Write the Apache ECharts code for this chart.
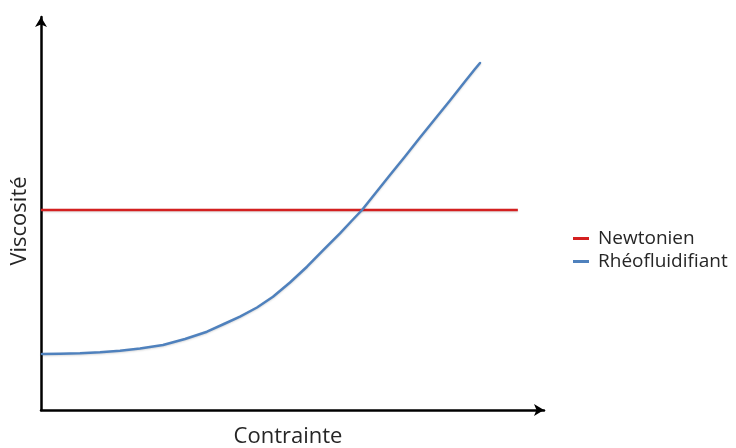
<!DOCTYPE html>
<html><head><meta charset="utf-8">
<script src="https://cdn.jsdelivr.net/npm/echarts@6/dist/echarts.min.js"></script>
<style>html,body{margin:0;padding:0;background:#fff}#c{width:736px;height:448px}</style>
</head><body><div id="c"></div>
<script>
const seriesNames = ['Newtonien', 'Rhéofluidifiant'];
const newtonienX = [0, 94.8];
const newtonienY = [50.9, 50.9];
const rheoX = [0.2, 3.78, 7.75, 11.73, 15.71, 19.68, 24.25, 28.63, 33.0, 36.58, 39.56, 42.94, 46.12, 49.5, 52.88, 56.06, 59.44, 61.83, 63.82, 66.6, 69.38, 72.37, 75.35, 78.33, 81.31, 84.29, 86.28, 87.28];
const rheoY = [14.25, 14.3, 14.43, 14.68, 15.06, 15.65, 16.54, 18.07, 19.92, 22.01, 23.74, 26.08, 28.83, 32.44, 36.46, 40.59, 44.96, 48.22, 50.89, 55.34, 59.8, 64.5, 69.34, 74.05, 78.75, 83.59, 86.77, 88.3];
const xTitle = 'Contrainte';
const yTitle = 'Viscosité';

const chart = echarts.init(document.getElementById('c'));
const font = 'Open Sans';
chart.setOption({
  animation: false,
  backgroundColor: '#fff',
  grid: { left: 41, right: 192, top: 17, bottom: 38 },
  xAxis: {
    type: 'value', min: 0, max: 100,
    axisLine: { show: true, lineStyle: { color: '#000', width: 2.5 }, symbol: ['none', 'arrow'], symbolSize: [9, 10] },
    axisTick: { show: false }, axisLabel: { show: false }, splitLine: { show: false }
  },
  yAxis: {
    type: 'value', min: 0, max: 100,
    axisLine: { show: true, lineStyle: { color: '#000', width: 2.5 }, symbol: ['none', 'arrow'], symbolSize: [9, 10] },
    axisTick: { show: false }, axisLabel: { show: false }, splitLine: { show: false }
  },
  legend: {
    orient: 'vertical', left: 568, top: 224, itemGap: 4,
    itemWidth: 16, itemHeight: 3,
    icon: 'rect',
    textStyle: { fontFamily: font, fontSize: 19, color: '#262626', padding: [0, 0, 0, 4] },
    data: seriesNames
  },
  graphic: [
    { type: 'text', style: { text: xTitle, font: '22px "Open Sans"', fill: '#262626', x: 288, y: 437, align: 'center', verticalAlign: 'middle' } },
    { type: 'text', style: { text: yTitle, font: '22px "Open Sans"', fill: '#262626', x: 0, y: 0, align: 'center', verticalAlign: 'middle' }, x: 20, y: 221, rotation: Math.PI / 2 }
  ],
  series: [
    { name: seriesNames[0], type: 'line', showSymbol: false, color: '#d42020',
      lineStyle: { width: 2.5, color: '#d42020', shadowColor: 'rgba(0,0,0,0.15)', shadowBlur: 2, shadowOffsetY: 1 },
      data: newtonienX.map((x, i) => [x, newtonienY[i]]) },
    { name: seriesNames[1], type: 'line', showSymbol: false, smooth: false, color: '#4f81bd',
      lineStyle: { width: 2.5, color: '#4f81bd', join: 'round', cap: 'round', shadowColor: 'rgba(0,0,0,0.15)', shadowBlur: 2, shadowOffsetY: 1 },
      data: rheoX.map((x, i) => [x, rheoY[i]]) }
  ]
});
</script></body></html>
